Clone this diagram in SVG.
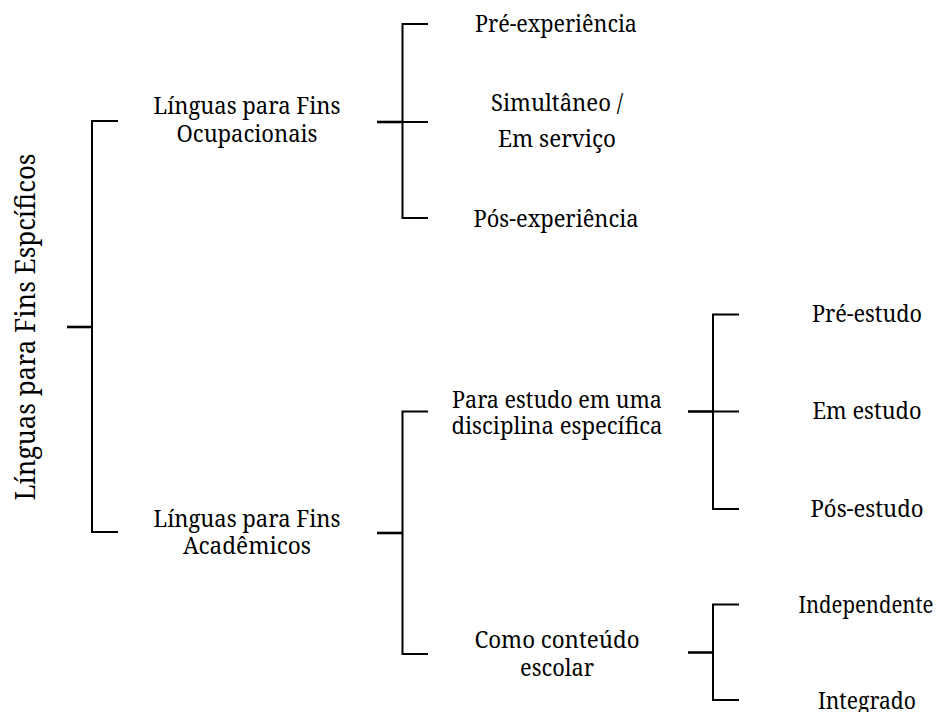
<svg xmlns="http://www.w3.org/2000/svg" width="939" height="712" viewBox="0 0 939 712">
<style>
  text { font-family: "Noto Serif", "DejaVu Serif", "Liberation Serif", serif; fill: #000; text-anchor: middle; }
  .lbl { font-size: 23.5px; }
  .root { font-size: 28px; }
  .br { fill: none; stroke: #000; stroke-width: 2; }
  .stub { fill: none; stroke: #000; stroke-width: 2.6; }
</style>
<rect width="939" height="712" fill="#fff"/>
<g id="connectors">
  <path class="br" d="M118,121 H92 V532 H118"/>
  <path class="stub" d="M67,327 H92"/>
  <path class="br" d="M428,24 H402.5 V218 H428 M402.5,122 H428"/>
  <path class="stub" d="M377,122 H402.5"/>
  <path class="br" d="M428,411.5 H402.5 V654 H428"/>
  <path class="stub" d="M377,533 H402.5"/>
  <path class="br" d="M739,314.5 H713 V509 H739 M713,411.5 H739"/>
  <path class="stub" d="M688,411.5 H713"/>
  <path class="br" d="M739,604.5 H713 V700 H739"/>
  <path class="stub" d="M688,652.5 H713"/>
</g>
<g id="n-root"><text class="root" transform="translate(35,327) rotate(-90)" textLength="347" lengthAdjust="spacingAndGlyphs">Línguas para Fins Espcíficos</text></g>
<g id="n-ocup"><text class="lbl" x="247" y="114" textLength="187" lengthAdjust="spacingAndGlyphs">Línguas para Fins</text><text class="lbl" x="247" y="142" textLength="141" lengthAdjust="spacingAndGlyphs">Ocupacionais</text></g>
<g id="n-acad"><text class="lbl" x="247" y="527" textLength="187" lengthAdjust="spacingAndGlyphs">Línguas para Fins</text><text class="lbl" x="247" y="554" textLength="128" lengthAdjust="spacingAndGlyphs">Acadêmicos</text></g>
<g id="n-pre-exp"><text class="lbl" x="556" y="32" textLength="162" lengthAdjust="spacingAndGlyphs">Pré-experiência</text></g>
<g id="n-simul"><text class="lbl" x="557" y="111" textLength="132" lengthAdjust="spacingAndGlyphs">Simultâneo /</text><text class="lbl" x="557" y="147" textLength="118" lengthAdjust="spacingAndGlyphs">Em serviço</text></g>
<g id="n-pos-exp"><text class="lbl" x="556" y="227" textLength="165" lengthAdjust="spacingAndGlyphs">Pós-experiência</text></g>
<g id="n-disc"><text class="lbl" x="557" y="408" textLength="210" lengthAdjust="spacingAndGlyphs">Para estudo em uma</text><text class="lbl" x="557" y="434" textLength="211" lengthAdjust="spacingAndGlyphs">disciplina específica</text></g>
<g id="n-escolar"><text class="lbl" x="557" y="648" textLength="165" lengthAdjust="spacingAndGlyphs">Como conteúdo</text><text class="lbl" x="557" y="676" textLength="74" lengthAdjust="spacingAndGlyphs">escolar</text></g>
<g id="n-pre-est"><text class="lbl" x="867" y="322" textLength="110" lengthAdjust="spacingAndGlyphs">Pré-estudo</text></g>
<g id="n-em-est"><text class="lbl" x="867" y="419" textLength="109" lengthAdjust="spacingAndGlyphs">Em estudo</text></g>
<g id="n-pos-est"><text class="lbl" x="867" y="517" textLength="113" lengthAdjust="spacingAndGlyphs">Pós-estudo</text></g>
<g id="n-indep"><text class="lbl" x="866" y="613" textLength="135" lengthAdjust="spacingAndGlyphs">Independente</text></g>
<g id="n-integ"><text class="lbl" x="867" y="709" textLength="98" lengthAdjust="spacingAndGlyphs">Integrado</text></g>
</svg>
